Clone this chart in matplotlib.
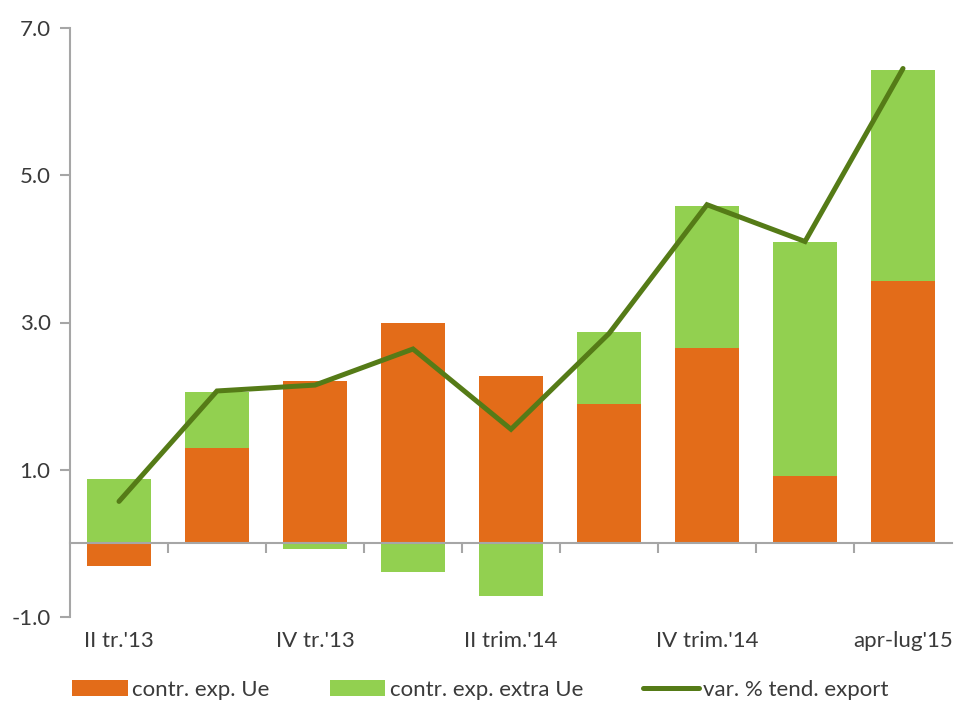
import matplotlib
matplotlib.use("Agg")
import matplotlib.pyplot as plt
import numpy as np

plt.rcParams['font.family'] = ['Lato', 'DejaVu Sans']

categories = ["II tr.'13", "III tr.'13", "IV tr.'13", "I trim.'14", "II trim.'14",
              "III trim.'14", "IV trim.'14", "I trim.'15", "apr-lug'15"]
tick_labels = ["II tr.'13", "", "IV tr.'13", "", "II trim.'14", "",
               "IV trim.'14", "", "apr-lug'15"]
contr_ue = [-0.31, 1.29, 2.21, 3.00, 2.27, 1.89, 2.65, 0.91, 3.57]
contr_extra_ue = [0.87, 0.76, -0.07, -0.39, -0.72, 0.98, 1.93, 3.18, 2.86]
var_export = [0.57, 2.07, 2.15, 2.64, 1.55, 2.85, 4.60, 4.10, 6.45]

c_orange = "#E36C19"
c_green = "#92D050"
c_line = "#557B17"
c_axis = "#A6A6A6"
c_text = "#3A3A3A"

fig = plt.figure(figsize=(9.55, 7.08), dpi=100)
ax = fig.add_axes([70/955, 1-617/708, (952-70)/955, (617-28)/708])

x = np.arange(len(categories))
ue = np.array(contr_ue)
ex = np.array(contr_extra_ue)
bottom_ex = np.where((ex >= 0) & (ue >= 0), ue, 0.0)
bottom_ex = np.where((ex < 0) & (ue < 0), ue, bottom_ex)

w = 0.65
b1 = ax.bar(x, ue, width=w, color=c_orange, label="contr. exp. Ue", zorder=2)
b2 = ax.bar(x, ex, width=w, bottom=bottom_ex, color=c_green, label="contr. exp. extra Ue", zorder=2)
l1, = ax.plot(x, var_export, color=c_line, lw=3.6, solid_capstyle='round',
              solid_joinstyle='miter', label="var. % tend. export", zorder=3)

ax.set_xlim(-0.5, 8.5)
ax.set_ylim(-1.0, 7.0)
ax.set_yticks([-1, 1, 3, 5, 7])
ax.set_yticklabels([f"{v:.1f}" for v in [-1, 1, 3, 5, 7]])

for s in ['top', 'right']:
    ax.spines[s].set_visible(False)
ax.spines['left'].set_color(c_axis)
ax.spines['left'].set_linewidth(1.5)
ax.spines['bottom'].set_position(('data', 0))
ax.spines['bottom'].set_color(c_axis)
ax.spines['bottom'].set_linewidth(1.5)
ax.spines['bottom'].set_zorder(4)

fs = 16
ax.set_xticks(x)
ax.set_xticklabels(tick_labels)
ax.set_xticks(np.arange(0.5, 8.5, 1.0), minor=True)
ax.tick_params(axis='x', which='major', length=0, pad=63, labelsize=fs, labelcolor=c_text)
ax.tick_params(axis='x', which='minor', length=7, width=1.5, color=c_axis, direction='out')
ax.tick_params(axis='y', which='major', length=7, width=1.5, color=c_axis, direction='out',
               pad=7, labelsize=fs, labelcolor=c_text)

fig.legend([b1, b2, l1], ["contr. exp. Ue", "contr. exp. extra Ue", "var. % tend. export"],
           loc='center', bbox_to_anchor=(0.503, 1-690/708), ncol=3, frameon=False,
           fontsize=fs, handlelength=2.5, handleheight=0.75, handletextpad=0.2,
           columnspacing=2.7, labelcolor=c_text)

fig.savefig("out.png", dpi=100)
